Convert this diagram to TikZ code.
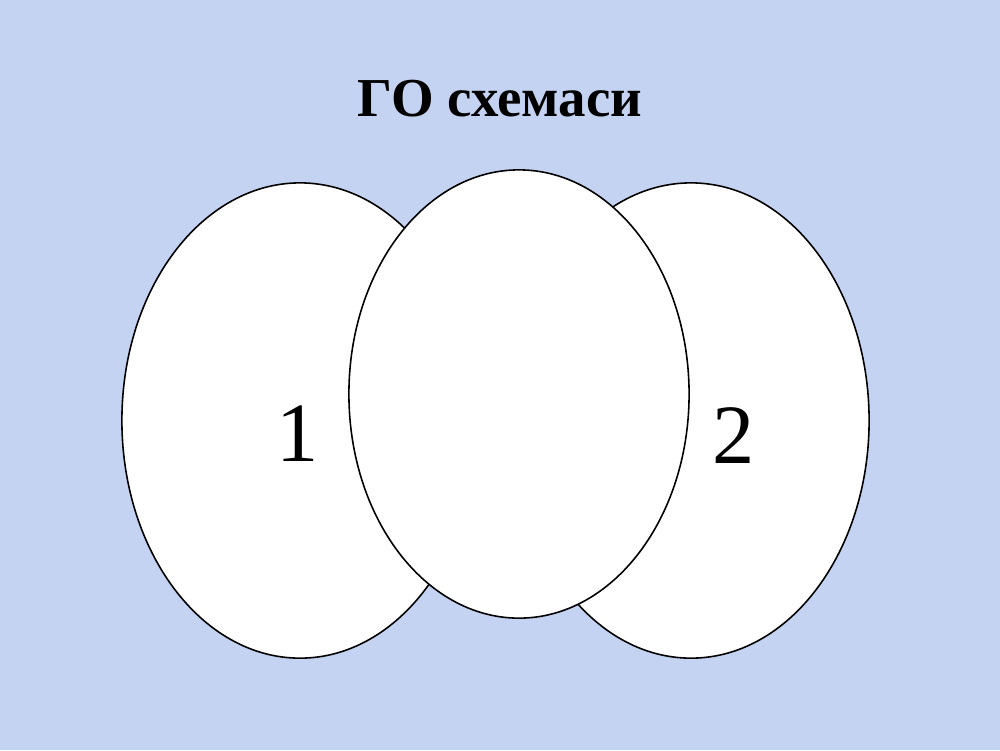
\documentclass[tikz,border=0pt]{standalone}
\usepackage{fontspec}
\setmainfont{Liberation Serif}
\definecolor{bgblue}{RGB}{197,211,242}
\tikzset{
  venn/.style={draw=black, fill=white, line width=0.45pt},
  num/.style={font=\fontsize{24pt}{28pt}\selectfont},
  titletext/.style={font=\fontsize{15.6pt}{18pt}\selectfont\bfseries}
}
\begin{document}
\begin{tikzpicture}[x=0.01cm,y=-0.01cm]
  \fill[bgblue] (0,0) rectangle (1000,750);
  \useasboundingbox (0,0) rectangle (1000,750);
  \node[titletext] (title) at (500,99) {ГО схемаси};
  \path[venn] (300,420.5) ellipse [x radius=1.78cm, y radius=2.375cm];
  \path[venn] (691,420.5) ellipse [x radius=1.78cm, y radius=2.375cm];
  \path[venn] (519,394) ellipse [x radius=1.70cm, y radius=2.24cm];
  \node[num] (one) at (298,434) {1};
  \node[num] (two) at (734,436) {2};
\end{tikzpicture}
\end{document}
